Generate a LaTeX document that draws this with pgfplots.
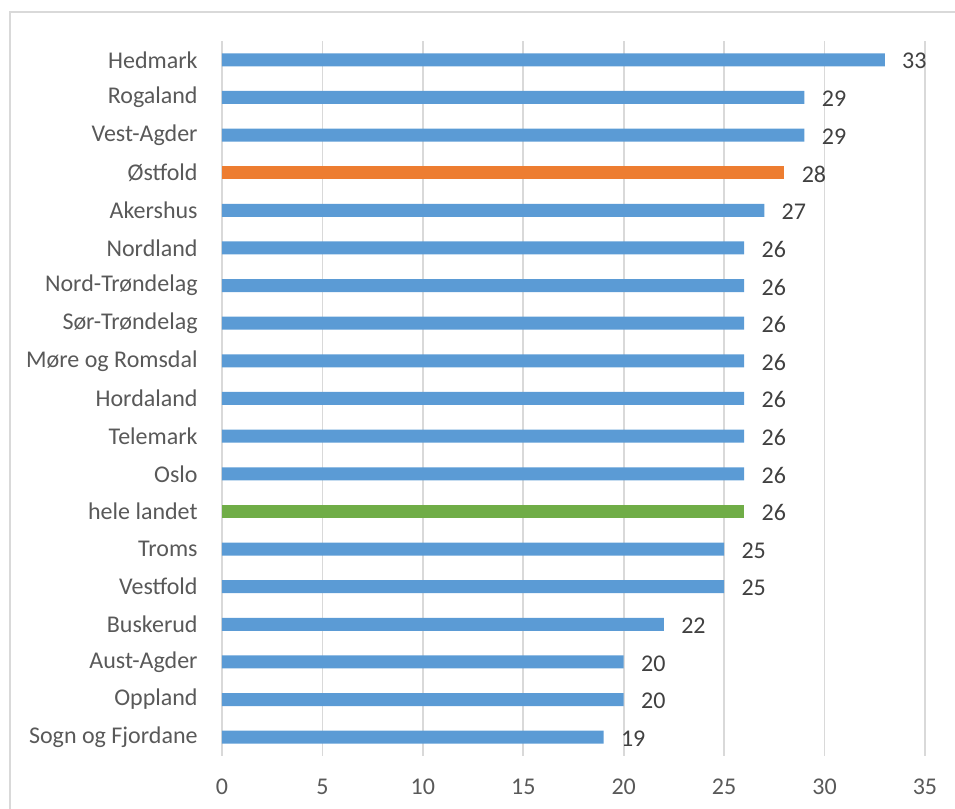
\documentclass[border=0pt]{standalone}
\usepackage{pgfplots}
\pgfplotsset{compat=1.18}
\usepackage{fontspec}
\setmainfont{Carlito}
\definecolor{cblue}{HTML}{5B9BD5}
\definecolor{corange}{HTML}{ED7D31}
\definecolor{cgreen}{HTML}{70AD47}
\definecolor{gridgray}{HTML}{D9D9D9}
\definecolor{labelgray}{HTML}{595959}
\definecolor{valgray}{HTML}{404040}
\begin{document}
\begin{tikzpicture}
\path[use as bounding box] (-111pt,-26.5pt) rectangle (366.5pt,378pt);
\draw[gridgray, line width=1pt] (-106pt,-40pt) -- (-106pt,372pt) -- (380pt,372pt);
\begin{axis}[
  scale only axis, width=351.5pt, height=357.5pt,
  xbar, bar width=6.5pt, bar shift=0pt,
  xmin=0, xmax=35, ymin=-0.5, ymax=18.5,
  xtick={0,5,...,35}, ytick={0,...,18},
  yticklabels={Sogn og Fjordane, Oppland, Aust-Agder, Buskerud, Vestfold, Troms, hele landet, Oslo, Telemark, Hordaland, Møre og Romsdal, Sør-Trøndelag, Nord-Trøndelag, Nordland, Akershus, Østfold, Vest-Agder, Rogaland, Hedmark},
  axis line style={draw=none},
  xmajorgrids, grid style={draw=gridgray, line width=0.9pt},
  major tick length=0pt,
  tick label style={font=\fontsize{12}{14}\selectfont, text=labelgray},
  /pgf/number format/assume math mode=true,
  yticklabel style={inner sep=0pt, xshift=-12pt},
  xticklabel style={inner sep=0pt, yshift=-11.5pt},
  nodes near coords,
  nodes near coords style={font=\fontsize{12}{14}\selectfont, text=valgray, anchor=west, inner sep=0pt, xshift=8.5pt, yshift=-0.7pt},
  /pgf/number format/fixed, /pgf/number format/precision=0,
]
\addplot[fill=cblue, draw=none] coordinates {
 (19,0) (20,1) (20,2) (22,3) (25,4) (25,5) (26,7) (26,8) (26,9) (26,10) (26,11) (26,12) (26,13) (27,14) (29,16) (29,17) (33,18)};
\addplot[fill=corange, draw=none] coordinates {(28,15)};
\addplot[fill=cgreen, draw=none] coordinates {(26,6)};
\end{axis}
\end{tikzpicture}
\end{document}
